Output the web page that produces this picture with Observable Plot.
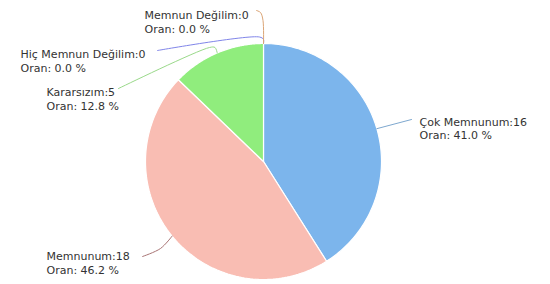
<!DOCTYPE html>
<html><head><meta charset="utf-8">
<script src="https://cdn.jsdelivr.net/npm/d3@7"></script>
<script src="https://cdn.jsdelivr.net/npm/@observablehq/plot@0.6"></script>
<style>body{margin:0;background:#fff}</style>
</head><body><div id="chart"></div>
<script>
const names = ["Çok Memnunum", "Memnunum", "Kararsızım", "Hiç Memnun Değilim", "Memnun Değilim"];
const counts = [16, 18, 5, 0, 0];
const sliceColors = ["#7cb5ec", "#f9bdb3", "#90ed7d", "#8085e9", "#f7a35c"];
const connectorColors = ["#7ea8cf", "#a87474", "#9ad98a", "#8085e9", "#dba576"];

// layout (pixels): label anchor and connector bend points
const W = 550, H = 284, CX = 263, CY = 161, R = 118;
const labelAnchors = [[419, 127.5], [46, 262], [46, 98], [20, 60], [144, 21]];
const connectorBends = [
  [[411, 119]],
  [[160, 248], [142, 256]],
  [[214.5, 47], [209, 47], [118, 88]],
  [[263, 39], [259, 36.5], [157, 50]],
  [[262.5, 20], [260, 12], [256, 10]]
];

const toU = ([px, py]) => ({x: (px - CX) / R, y: (CY - py) / R});
const total = d3.sum(counts);
const arcs = d3.pie().sort(null).value(d => d)(counts);

const slices = [];
arcs.forEach((a, i) => {
  if (a.endAngle - a.startAngle <= 0) return;
  slices.push({name: names[i], x: 0, y: 0});
  const n = 120;
  for (let k = 0; k <= n; k++) {
    const t = a.startAngle + (a.endAngle - a.startAngle) * k / n;
    slices.push({name: names[i], x: Math.sin(t), y: Math.cos(t)});
  }
  slices.push({name: names[i], x: 0, y: 0});
});

const connectors = [];
arcs.forEach((a, i) => {
  const mid = (a.startAngle + a.endAngle) / 2;
  connectors.push({name: names[i], x: Math.sin(mid), y: Math.cos(mid)});
  connectorBends[i].forEach(p => connectors.push({name: names[i], ...toU(p)}));
});

const labels = names.map((nm, i) => ({
  name: nm,
  ...toU(labelAnchors[i]),
  text: `${nm}:${counts[i]}\nOran: ${(counts[i] / total * 100).toFixed(1)} %`
}));

const colorScale = {domain: names, range: sliceColors};

const chart = Plot.plot({
  width: W, height: H,
  margin: 0,
  x: {domain: [-CX / R, (W - CX) / R], range: [0, W], axis: null},
  y: {domain: [CY / R, -(H - CY) / R], range: [0, H], axis: null},
  color: colorScale,
  style: {background: "#fff"},
  marks: [
    Plot.line(slices, {x: "x", y: "y", z: "name", fill: "name", stroke: "#fff", strokeWidth: 1.2}),
    ...names.map((nm, i) => Plot.line(connectors.filter(d => d.name === nm), {
      x: "x", y: "y", stroke: connectorColors[i], strokeWidth: 1, curve: "catmull-rom"
    })),
    Plot.text(labels, {
      x: "x", y: "y", text: "text", textAnchor: "start", lineAnchor: "middle",
      lineHeight: 1.27, fontSize: 11, fill: "#333",
      fontFamily: "DejaVu Sans, sans-serif"
    })
  ]
});
document.getElementById("chart").appendChild(chart);
</script>
</body></html>
